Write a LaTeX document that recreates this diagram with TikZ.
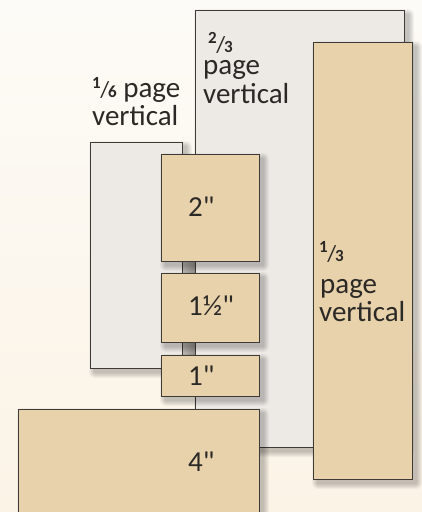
\documentclass[tikz,border=0pt]{standalone}
\usepackage{fontspec}
\setmainfont{Carlito}[Ligatures=TeXOff]
\definecolor{bgtop}{HTML}{FDFBF7}
\definecolor{bgbot}{HTML}{FBF3E6}
\definecolor{grayfill}{HTML}{EDEAE6}
\definecolor{tanfill}{HTML}{E8D2AB}
\definecolor{edge}{HTML}{3E3A35}
\definecolor{ink}{HTML}{2B2926}
\definecolor{spinel}{HTML}{BAB7B2}
\definecolor{spiner}{HTML}{8F8C88}
\newcommand\vfrac[2]{\raisebox{9pt}{\fontsize{17}{17}\selectfont\bfseries #1}\kern-0.5pt{\fontsize{23}{23}\selectfont\raisebox{-0.5pt}{/}}\kern-1pt{\fontsize{17}{17}\selectfont\bfseries #2}}
\newcommand\softshadow[4]{%
  \foreach \k in {1,...,6}{\fill[black,opacity=0.04,rounded corners=\k pt] (#1+5-\k,#2+5-\k) rectangle (#3+4+\k,#4+4+\k);}}
\tikzset{
  pagebox/.style={draw=edge,line width=0.8pt,inner sep=0pt,outer sep=0pt,anchor=north west},
  graybox/.style={pagebox,fill=grayfill},
  tanbox/.style={pagebox,fill=tanfill},
  spinebox/.style={draw=edge,line width=0.6pt,left color=spinel,right color=spiner,inner sep=0pt,outer sep=0pt,anchor=north west},
  lbl/.style={font=\fontsize{29}{29}\selectfont,text=ink,inner sep=0pt,anchor=base west}
}
\begin{document}
\begin{tikzpicture}[x=1pt,y=-1pt]
\useasboundingbox (0,0) rectangle (422,512);
\clip (0,0) rectangle (422,512);
\shade[top color=bgtop,bottom color=bgbot] (0,0) rectangle (422,512);
% two-thirds
\softshadow{195}{10}{404}{447}
\node[graybox,minimum width=209pt,minimum height=437pt] (b23) at (195,10) {};
% one-third
\softshadow{313}{42}{412}{479}
\node[tanbox,minimum width=99pt,minimum height=437pt] (b13) at (313,42) {};
% one-sixth
\softshadow{90}{142}{182}{368}
\node[graybox,minimum width=92pt,minimum height=226pt] (b16) at (90,142) {};
% spines
\node[spinebox,minimum width=13pt,minimum height=12pt] (sp1) at (182,261) {};
\node[spinebox,minimum width=13pt,minimum height=13pt] (sp2) at (182,342) {};
% inch boxes
\softshadow{161}{154}{259}{261}
\node[tanbox,minimum width=98pt,minimum height=107pt] (two) at (161,154) {};
\softshadow{161}{273}{259}{342}
\node[tanbox,minimum width=98pt,minimum height=69pt] (onehalf) at (161,273) {};
\softshadow{161}{355}{259}{396}
\node[tanbox,minimum width=98pt,minimum height=41pt] (one) at (161,355) {};
\softshadow{18}{409}{259}{530}
\node[tanbox,minimum width=241pt,minimum height=121pt] (four) at (18,409) {};
% labels
\node[lbl] (t16a) at (92,97) {\vfrac{1}{6} page};
\node[lbl] (t16b) at (92,125) {vertical};
\node[lbl] (t23a) at (208,52) {\vfrac{2}{3}};
\node[lbl] (t23b) at (203,74.5) {page};
\node[lbl] (t23c) at (203,103.5) {vertical};
\node[lbl] (t13a) at (319,261) {\vfrac{1}{3}};
\node[lbl] (t13b) at (320,293) {page};
\node[lbl] (t13c) at (319,321) {vertical};
\node[lbl] (l2) at (188,216) {2"};
\node[lbl] (l15) at (188,315) {1½"};
\node[lbl] (l1) at (188,385) {1"};
\node[lbl] (l4) at (188,471) {4"};
\end{tikzpicture}
\end{document}
